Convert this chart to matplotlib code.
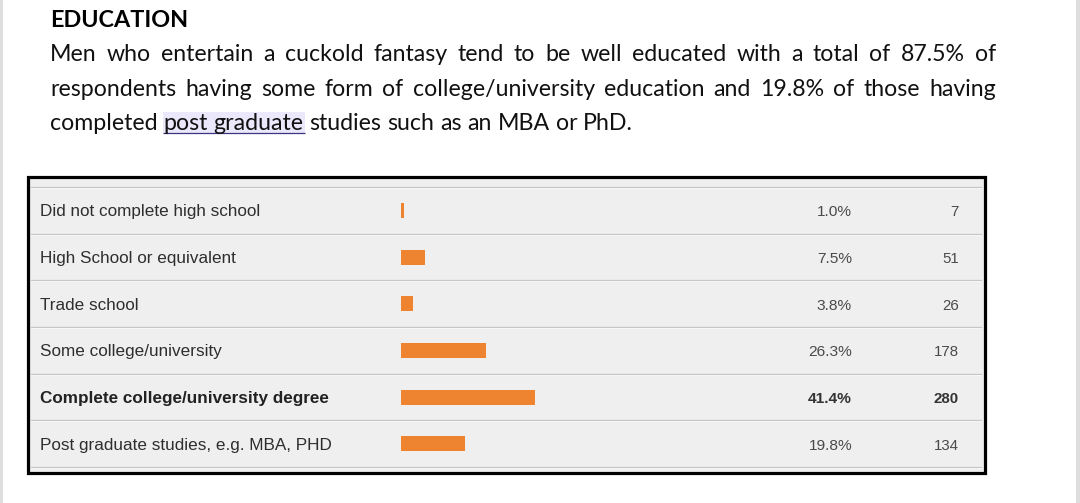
import matplotlib
matplotlib.use("Agg")
import matplotlib.pyplot as plt
from matplotlib.patches import Rectangle

# ---------------- data ----------------
categories = [
    "Did not complete high school",
    "High School or equivalent",
    "Trade school",
    "Some college/university",
    "Complete college/university degree",
    "Post graduate studies, e.g. MBA, PHD",
]
percent = [1.0, 7.5, 3.8, 26.3, 41.4, 19.8]
counts = [7, 51, 26, 178, 280, 134]
bold_rows = [4]

heading = "EDUCATION"
body_lines = [
    "Men who entertain a cuckold fantasy tend to be well educated with a total of 87.5% of",
    "respondents having some form of college/university education and 19.8% of those having",
    "completed post graduate studies such as an MBA or PhD.",
]
highlight_words = ["post", "graduate"]

# ---------------- figure ----------------
W, H = 1080, 503
fig = plt.figure(figsize=(W / 100, H / 100), dpi=100)
fig.patch.set_facecolor("white")
page = fig.add_axes([0, 0, 1, 1])
page.set_xlim(0, W)
page.set_ylim(H, 0)
page.axis("off")

renderer = fig.canvas.get_renderer()


def text_w(s, **kw):
    t = page.text(0, 100, s, **kw)
    w = t.get_window_extent(renderer).width
    t.remove()
    return w


def fit(s, target, **kw):
    return 10.0 * target / text_w(s, fontsize=10, **kw)


# page edges (grey document background)
page.add_patch(Rectangle((0, 0), 3, H, color="#dedede", lw=0))
page.add_patch(Rectangle((1076, 0), 4, H, color="#dedede", lw=0))

# ---------------- heading & paragraph ----------------
BODY_FONT = "Lato"
hs = fit(heading, 138, family=BODY_FONT, weight="bold")
page.text(50, 26.7, heading, family=BODY_FONT, weight="bold", fontsize=hs,
          color="black", va="baseline", ha="left")

bs = fit(body_lines[2], 583, family=BODY_FONT)
space_w = text_w("a a", family=BODY_FONT, fontsize=bs) - text_w("aa", family=BODY_FONT, fontsize=bs)
baselines = [61, 95.5, 130]
x_left, x_right = 50, 996
for li, line in enumerate(body_lines):
    words = line.split(" ")
    widths = [text_w(w, family=BODY_FONT, fontsize=bs) for w in words]
    if li < len(body_lines) - 1:
        gap = (x_right - x_left - sum(widths)) / (len(words) - 1)
    else:
        gap = space_w
    x = x_left
    hl_start = hl_end = None
    for w, ww in zip(words, widths):
        if li == len(body_lines) - 1 and w in highlight_words:
            if hl_start is None:
                hl_start = x
            hl_end = x + ww
        page.text(x, baselines[li], w, family=BODY_FONT, fontsize=bs,
                  color="#111111", va="baseline", ha="left", zorder=3)
        x += ww + gap
    if hl_start is not None:
        page.add_patch(Rectangle((hl_start - 1, baselines[li] - 18), hl_end - hl_start + 2, 21,
                                 color="#ebe8fc", lw=0, zorder=1))
        page.plot([hl_start - 1, hl_end + 1], [baselines[li] + 3.2, baselines[li] + 3.2],
                  color="#3a3680", lw=0.9, zorder=2, solid_capstyle="butt")

# ---------------- table ----------------
TX0, TX1, TY0, TY1 = 28, 985, 177, 473
ROW_TOP, ROW_BOT = 187, 467
n = len(categories)
page.add_patch(Rectangle((TX0, TY0), TX1 - TX0, TY1 - TY0, facecolor="#efefef",
                         edgecolor="black", lw=2.3, zorder=1))
row_h = (ROW_BOT - ROW_TOP) / n
for k in range(n + 1):
    y = ROW_TOP + k * row_h
    page.plot([31, 981], [y, y], color="#c6c6c6", lw=0.9, zorder=2)
    page.plot([31, 981], [y + 1, y + 1], color="#f9f9f9", lw=0.6, zorder=2)

tab = fig.add_axes([TX0 / W, 1 - ROW_BOT / H, (TX1 - TX0) / W, (ROW_BOT - ROW_TOP) / H])
tab.set_xlim(TX0, TX1)
tab.set_ylim(n - 0.5, -0.5)
tab.axis("off")
tab.patch.set_alpha(0)

TFONT = "Liberation Sans"
ls = fit(categories[0], 220, family=TFONT)
ps = fit("26.3%", 44, family=TFONT)
cs = fit("178", 25, family=TFONT)
off = 6.0 / row_h  # baseline offset from row centre (half cap height)
for i, (cat, p, c) in enumerate(zip(categories, percent, counts)):
    b = i in bold_rows
    wt = "bold" if b else "normal"
    tab.text(39.5, i + off, cat, family=TFONT, fontsize=ls, weight=wt,
             color="#222222" if b else "#2e2e2e", va="baseline", ha="left")
    tab.text(852, i + off, f"{p:.1f}%", family=TFONT, fontsize=ps, weight=wt,
             color="#333333" if b else "#4a4a4a", va="baseline", ha="right")
    tab.text(959, i + off, f"{c}", family=TFONT, fontsize=cs, weight=wt,
             color="#333333" if b else "#4a4a4a", va="baseline", ha="right")

# bars: 100 % = 325 px
bx = fig.add_axes([400.7 / W, 1 - ROW_BOT / H, 325 / W, (ROW_BOT - ROW_TOP) / H])
bx.set_xlim(0, 100)
bx.set_ylim(n - 0.5, -0.5)
bx.axis("off")
bx.patch.set_alpha(0)
bx.barh(range(n), percent, height=15 / row_h, color="#ef8430", lw=0)

fig.savefig("out.png", dpi=100, facecolor="white")
